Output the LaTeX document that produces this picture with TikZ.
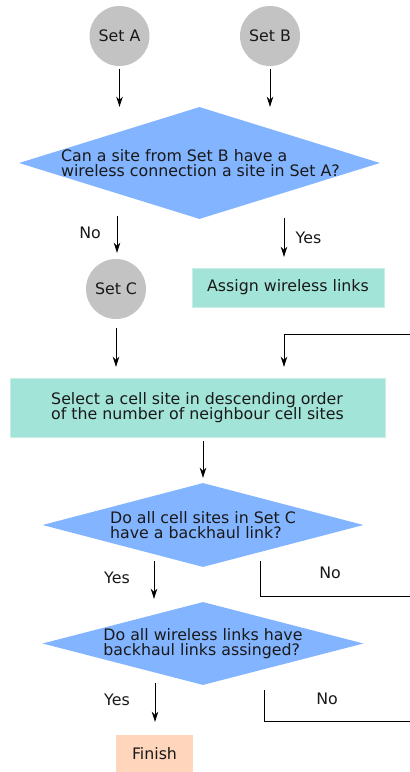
\documentclass[tikz,border=0pt]{standalone}
\usepackage{fontspec}
\setmainfont{DejaVu Sans}
\usetikzlibrary{shapes.geometric,arrows.meta,calc}
\definecolor{setgray}{HTML}{C3C3C3}
\definecolor{askblue}{HTML}{83B4FF}
\definecolor{stepteal}{HTML}{A2E4D8}
\definecolor{endpeach}{HTML}{FFD6BC}
\begin{document}
\begin{tikzpicture}[x=1pt,y=1pt,>={Stealth[length=10pt,width=6.5pt,inset=3pt]},
        font=\fontsize{15.8}{15.4}\selectfont,text=black!90,
        setcircle/.style={circle,fill=setgray,minimum size=60pt,inner sep=0pt},
        question/.style={diamond,fill=askblue,inner sep=0pt},
        action/.style={rectangle,fill=stepteal,draw=stepteal!60!white,inner sep=0pt},
        arr/.style={->,line width=0.9pt},
        plain/.style={line width=0.9pt}]
            \useasboundingbox (0,0) rectangle (410,772);
            \node[setcircle] (setA) at (119.5,736) {Set A};
            \node[setcircle] (setB) at (270,736) {Set B};
            \node[question,minimum width=361pt,minimum height=112pt] (q1) at (199.5,609) {};
            \node[align=left] (q1text) at ([xshift=1pt]q1.center) {Can a site from Set B have a\\wireless connection a site in Set A?};
            \node[setcircle] (setC) at (116,483) {Set C};
            \node[action,minimum width=192pt,minimum height=39pt] (assign) at (288,484.5) {Assign wireless links};
            \node[action,minimum width=375pt,minimum height=59pt,align=left] (select) at (197.5,364.5) {Select a cell site in descending order\\of the number of neighbour cell sites};
            \node[question,minimum width=321pt,minimum height=84pt] (q2) at (203,247) {};
            \node[align=left] (q2text) at (q2.center) {Do all cell sites in Set C\\have a backhaul link?};
            \node[question,minimum width=321pt,minimum height=83pt] (q3) at (203,128.5) {};
            \node[align=left] (q3text) at (q3.center) {Do all wireless links have\\backhaul links assinged?};
            \node[rectangle,fill=endpeach,minimum width=77pt,minimum height=37pt,inner sep=0pt] (finish) at (154.5,18.5) {Finish};
            \coordinate (loopin) at (410,438);
            \coordinate (no2end) at (410,176);
            \coordinate (no3end) at (410,51);
            \draw[arr] ([yshift=-3pt]setA.south) -- (setA |- q1.north);
            \draw[arr] ([yshift=-3pt]setB.south) -- (setB |- q1.north);
            \draw[arr] ($(setC |- q1.south)+(1,3)$) -- ($(setC.north)+(1,6)$);
            \draw[arr] ($(assign |- q1.south)+(-4,1)$) -- ($(assign.north)+(-4,11)$);
            \draw[arr] ($(setC.south)+(0,-9)$) -- ($(setC |- select.north)+(0,11)$);
            \draw[arr] (loopin) -| ($(select.north)+(86.5,11)$);
            \draw[arr] ($(select.south -| q2)+(0,-4)$) -- ($(q2.north)+(0,5)$);
            \draw[arr] ($(q2.south)+(-49,6)$) -- ($(q3.north)+(-49,3)$);
            \draw[plain] ($(q2.south)+(57,6)$) |- (no2end);
            \draw[arr] ($(q3.south)+(-48,2)$) -- ($(finish.north)+(0.5,13)$);
            \draw[plain] ($(q3.south)+(61,-5)$) |- (no3end);
            \node (no1) at (90,539) {No};
            \node (yes1) at (308.5,534) {Yes};
            \node (yes2) at (117,194) {Yes};
            \node (no2) at (330,199) {No};
            \node (yes3) at (117,72) {Yes};
            \node (no3) at (327,73) {No};
        \end{tikzpicture}
\end{document}
